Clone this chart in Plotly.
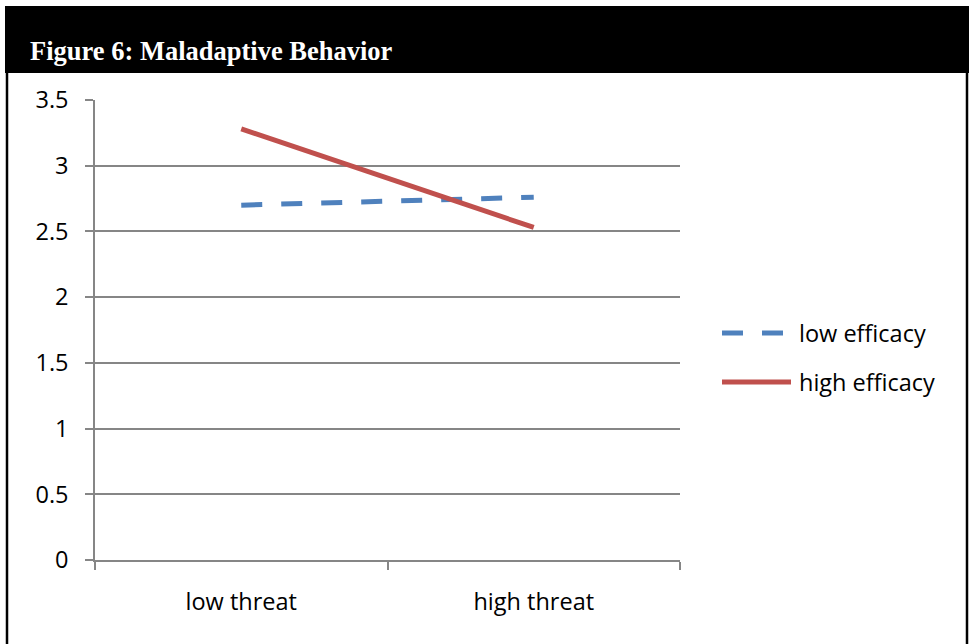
import plotly.graph_objects as go

# Figure size in pixels
W, H = 969, 644

categories = ["low threat", "high threat"]
low_efficacy = [2.70, 2.76]
high_efficacy = [3.28, 2.53]
y_ticks = [0, 0.5, 1, 1.5, 2, 2.5, 3, 3.5]
y_tick_labels = ["0", "0.5", "1", "1.5", "2", "2.5", "3", "3.5"]

title_text = "Figure 6: Maladaptive Behavior"
legend_names = ["low efficacy", "high efficacy"]

BLUE = "#4F81BD"
RED = "#C0504D"
GRID = "#868686"
FONT = "Open Sans"
FONT_SIZE = 23.5
LINE_W = 5


def px(x):
    return x / W


def py(y):
    return 1 - y / H


fig = go.Figure()
fig.add_trace(go.Scatter(
    x=categories, y=low_efficacy, mode="lines", name=legend_names[0],
    line=dict(color=BLUE, width=LINE_W, dash="21px,19px"), showlegend=False,
))
fig.add_trace(go.Scatter(
    x=categories, y=high_efficacy, mode="lines", name=legend_names[1],
    line=dict(color=RED, width=LINE_W), showlegend=False,
))

shapes = [
    # black header band
    dict(type="rect", xref="paper", yref="paper", x0=px(5), x1=px(969),
         y0=py(73), y1=py(6), fillcolor="black", line=dict(width=0), layer="below"),
    # frame sides
    dict(type="line", xref="paper", yref="paper", x0=px(7), x1=px(7),
         y0=py(73), y1=py(644), line=dict(color="black", width=2.5)),
    dict(type="line", xref="paper", yref="paper", x0=px(967), x1=px(967),
         y0=py(73), y1=py(644), line=dict(color="black", width=2.5)),
]

# hand-drawn legend
legend_rows = [(333, BLUE, "21px,19px"), (382, RED, "solid")]
annotations = [
    dict(text="<b>" + title_text + "</b>", xref="paper", yref="paper",
         x=px(28), y=py(51), xanchor="left", yanchor="middle", showarrow=False,
         font=dict(family="Liberation Serif", size=26.5, color="white")),
]
for (ly, color, dash), name in zip(legend_rows, legend_names):
    shapes.append(dict(type="line", xref="paper", yref="paper",
                       x0=px(722), x1=px(791), y0=py(ly), y1=py(ly),
                       line=dict(color=color, width=LINE_W, dash=dash)))
    annotations.append(dict(text=name, xref="paper", yref="paper",
                            x=px(797), y=py(ly), xanchor="left", yanchor="middle",
                            showarrow=False,
                            font=dict(family=FONT, size=FONT_SIZE, color="black")))

fig.update_layout(
    width=W, height=H,
    margin=dict(l=0, r=0, t=0, b=0),
    paper_bgcolor="white", plot_bgcolor="white",
    shapes=shapes, annotations=annotations,
    font=dict(family=FONT, size=FONT_SIZE, color="black"),
    xaxis=dict(
        domain=[px(95), px(680)], type="category", range=[-0.5, 1.5],
        tickson="boundaries", ticks="outside", ticklen=8, tickcolor=GRID, tickwidth=1.5,
        showline=True, linecolor=GRID, linewidth=1.5, showgrid=False,
        ticklabelstandoff=20, automargin=False, zeroline=False,
    ),
    yaxis=dict(
        domain=[py(560), py(100)], range=[0, 3.5],
        tickvals=y_ticks, ticktext=y_tick_labels,
        ticks="outside", ticklen=8, tickcolor=GRID, tickwidth=1.5,
        showline=True, linecolor=GRID, linewidth=1.5,
        showgrid=True, gridcolor=GRID, gridwidth=1.5, zeroline=False,
        ticklabelstandoff=12, automargin=False,
    ),
)

fig.write_html("out.html")
